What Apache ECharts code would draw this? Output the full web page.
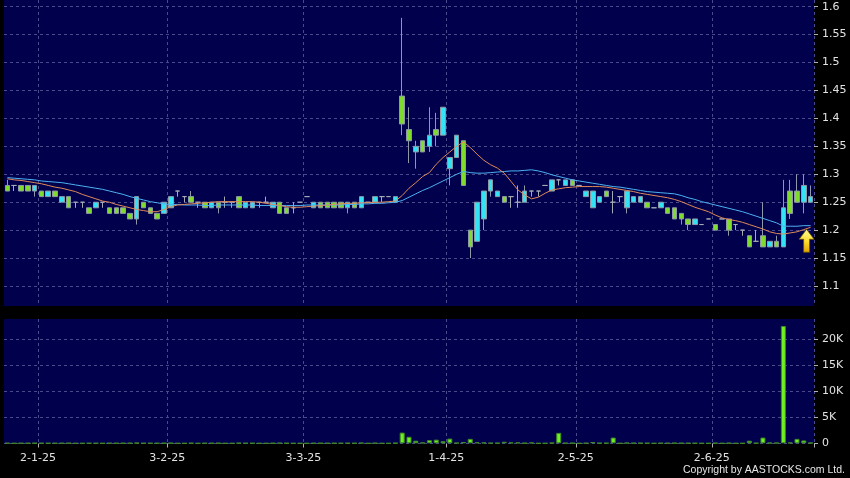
<!DOCTYPE html>
<html><head><meta charset="utf-8">
<script src="https://cdn.jsdelivr.net/npm/echarts@6/dist/echarts.min.js"></script>
<style>html,body{margin:0;padding:0;background:#000;}#c{width:850px;height:478px;}</style>
</head><body><div id="c"></div><script>
const dates = [
'23-12-24','24-12-24','27-12-24','30-12-24','31-12-24',
'2-1-25','3-1-25','6-1-25','7-1-25','8-1-25','9-1-25','10-1-25','13-1-25','14-1-25','15-1-25','16-1-25','17-1-25','20-1-25','21-1-25','22-1-25','23-1-25','24-1-25','27-1-25','28-1-25',
'3-2-25','4-2-25','5-2-25','6-2-25','7-2-25','10-2-25','11-2-25','12-2-25','13-2-25','14-2-25','17-2-25','18-2-25','19-2-25','20-2-25','21-2-25','24-2-25','25-2-25','26-2-25','27-2-25','28-2-25',
'3-3-25','4-3-25','5-3-25','6-3-25','7-3-25','10-3-25','11-3-25','12-3-25','13-3-25','14-3-25','17-3-25','18-3-25','19-3-25','20-3-25','21-3-25','24-3-25','25-3-25','26-3-25','27-3-25','28-3-25','31-3-25',
'1-4-25','2-4-25','3-4-25','7-4-25','8-4-25','9-4-25','10-4-25','11-4-25','14-4-25','15-4-25','16-4-25','17-4-25','22-4-25','23-4-25','24-4-25','25-4-25','28-4-25','29-4-25','30-4-25',
'2-5-25','6-5-25','7-5-25','8-5-25','9-5-25','12-5-25','13-5-25','14-5-25','15-5-25','16-5-25','19-5-25','20-5-25','21-5-25','22-5-25','23-5-25','26-5-25','27-5-25','28-5-25','29-5-25','30-5-25',
'2-6-25','3-6-25','4-6-25','5-6-25','6-6-25','9-6-25','10-6-25','11-6-25','12-6-25','13-6-25','16-6-25','17-6-25','18-6-25','19-6-25','20-6-25'
];
const labelDates = ['2-1-25','3-2-25','3-3-25','1-4-25','2-5-25','2-6-25'];

const opens = [
1.28,1.28,1.28,1.28,1.27,1.27,1.26,1.27,1.25,1.26,
1.25,1.25,1.24,1.24,1.25,1.24,1.24,1.24,1.23,1.22,
1.25,1.24,1.23,1.23,1.24,1.27,1.26,1.26,1.25,1.25,
1.24,1.25,1.25,1.25,1.26,1.24,1.24,1.25,1.25,1.24,
1.25,1.24,1.24,1.25,1.26,1.24,1.25,1.25,1.25,1.25,
1.24,1.25,1.24,1.25,1.25,1.26,1.26,1.25,1.44,1.38,
1.34,1.36,1.35,1.38,1.37,1.31,1.33,1.36,1.20,1.18,
1.22,1.27,1.26,1.26,1.26,1.25,1.25,1.27,1.27,1.28,
1.27,1.29,1.28,1.29,1.28,1.26,1.24,1.25,1.27,1.25,
1.26,1.24,1.25,1.25,1.25,1.24,1.24,1.24,1.24,1.23,
1.22,1.21,1.21,1.22,1.21,1.22,1.22,1.21,1.20,1.19,
1.18,1.19,1.17,1.18,1.17,1.27,1.27,1.25,1.25];
const closes = [
1.27,1.28,1.27,1.27,1.28,1.26,1.27,1.26,1.26,1.24,
1.25,1.25,1.23,1.25,1.25,1.23,1.23,1.23,1.22,1.26,
1.24,1.23,1.22,1.25,1.26,1.27,1.26,1.25,1.25,1.24,
1.25,1.24,1.25,1.25,1.24,1.25,1.25,1.25,1.25,1.25,
1.23,1.23,1.24,1.25,1.26,1.25,1.24,1.24,1.24,1.24,
1.25,1.24,1.26,1.25,1.26,1.26,1.26,1.26,1.39,1.36,
1.35,1.34,1.37,1.37,1.42,1.33,1.37,1.28,1.17,1.25,
1.27,1.29,1.27,1.25,1.26,1.25,1.27,1.27,1.27,1.28,
1.29,1.29,1.29,1.28,1.28,1.27,1.27,1.26,1.26,1.25,
1.26,1.27,1.26,1.26,1.24,1.24,1.25,1.23,1.22,1.22,
1.21,1.22,1.21,1.22,1.20,1.22,1.20,1.21,1.20,1.17,
1.18,1.17,1.18,1.17,1.24,1.23,1.25,1.28,1.26];
const lows = [
1.27,1.27,1.27,1.27,1.26,1.26,1.26,1.26,1.25,1.24,
1.24,1.24,1.23,1.24,1.24,1.23,1.23,1.23,1.22,1.21,
1.24,1.23,1.22,1.23,1.24,1.26,1.25,1.25,1.24,1.24,
1.24,1.23,1.24,1.24,1.24,1.24,1.24,1.24,1.25,1.24,
1.23,1.23,1.23,1.25,1.26,1.24,1.24,1.24,1.24,1.24,
1.23,1.24,1.24,1.25,1.25,1.25,1.26,1.25,1.37,1.32,
1.31,1.34,1.34,1.35,1.37,1.28,1.33,1.28,1.15,1.18,
1.20,1.26,1.26,1.25,1.24,1.24,1.25,1.26,1.26,1.28,
1.27,1.28,1.28,1.28,1.28,1.26,1.24,1.25,1.26,1.23,
1.25,1.23,1.25,1.25,1.24,1.24,1.24,1.23,1.22,1.21,
1.20,1.21,1.21,1.22,1.20,1.22,1.19,1.20,1.19,1.17,
1.18,1.17,1.17,1.17,1.17,1.22,1.25,1.23,1.25];
const highs = [
1.29,1.28,1.28,1.28,1.28,1.27,1.27,1.27,1.26,1.26,
1.25,1.25,1.24,1.25,1.25,1.24,1.24,1.24,1.23,1.26,
1.25,1.24,1.23,1.25,1.26,1.27,1.26,1.27,1.25,1.25,
1.25,1.25,1.26,1.25,1.26,1.25,1.25,1.25,1.26,1.25,
1.25,1.24,1.25,1.25,1.26,1.25,1.25,1.25,1.25,1.25,
1.25,1.25,1.26,1.25,1.26,1.26,1.26,1.26,1.58,1.42,
1.36,1.36,1.42,1.41,1.42,1.33,1.37,1.36,1.20,1.25,
1.27,1.29,1.27,1.26,1.26,1.28,1.28,1.27,1.27,1.28,
1.29,1.29,1.29,1.29,1.28,1.27,1.27,1.26,1.27,1.27,
1.26,1.27,1.26,1.26,1.25,1.24,1.25,1.24,1.24,1.23,
1.22,1.22,1.21,1.22,1.21,1.22,1.22,1.21,1.20,1.19,
1.20,1.25,1.18,1.19,1.29,1.29,1.30,1.30,1.28];
const maShort = [
1.292,1.290,1.289,1.287,1.285,1.283,1.280,1.277,1.275,1.272,
1.269,1.264,1.260,1.256,1.252,1.250,1.246,1.243,1.240,1.237,
1.235,1.233,1.233,1.237,1.242,1.245,1.246,1.247,1.248,1.249,
1.250,1.251,1.251,1.251,1.251,1.251,1.251,1.250,1.248,1.246,
1.244,1.242,1.241,1.241,1.242,1.243,1.244,1.245,1.246,1.247,
1.248,1.248,1.249,1.249,1.250,1.250,1.251,1.252,1.262,1.275,
1.285,1.296,1.303,1.318,1.330,1.340,1.350,1.358,1.348,1.336,
1.325,1.317,1.311,1.302,1.287,1.272,1.263,1.256,1.259,1.266,
1.272,1.274,1.276,1.277,1.278,1.278,1.278,1.278,1.277,1.275,
1.273,1.271,1.269,1.266,1.264,1.262,1.260,1.258,1.255,1.251,
1.246,1.241,1.237,1.233,1.227,1.222,1.219,1.217,1.214,1.210,
1.206,1.202,1.197,1.194,1.193,1.195,1.197,1.201,1.205];
const maLong = [
1.294,1.293,1.292,1.291,1.290,1.288,1.287,1.286,1.285,1.283,
1.281,1.279,1.277,1.275,1.273,1.270,1.267,1.264,1.260,1.257,
1.254,1.251,1.249,1.247,1.246,1.246,1.245,1.245,1.245,1.244,
1.244,1.245,1.245,1.245,1.245,1.245,1.245,1.244,1.244,1.244,
1.244,1.244,1.244,1.244,1.245,1.245,1.245,1.245,1.245,1.245,
1.246,1.246,1.247,1.247,1.248,1.248,1.249,1.250,1.253,1.259,
1.265,1.271,1.276,1.282,1.288,1.294,1.300,1.305,1.303,1.302,
1.302,1.303,1.304,1.305,1.306,1.306,1.307,1.308,1.306,1.303,
1.299,1.296,1.293,1.290,1.288,1.286,1.284,1.282,1.280,1.278,
1.277,1.275,1.273,1.271,1.269,1.268,1.267,1.266,1.265,1.262,
1.258,1.255,1.251,1.248,1.245,1.242,1.239,1.236,1.233,1.229,
1.225,1.221,1.217,1.213,1.207,1.207,1.207,1.208,1.208];
const volumes = [
40,0,30,30,40,30,20,30,30,60,
0,0,30,20,0,40,30,30,40,80,
30,30,30,40,60,0,0,40,0,30,
30,40,0,0,60,30,30,0,0,30,
60,30,0,0,0,30,30,30,30,30,
40,30,80,0,60,0,0,60,2050,1250,
500,150,600,700,400,900,80,250,850,200,
150,60,60,300,150,150,50,150,0,0,
100,2000,50,50,0,40,250,50,50,1100,
0,100,50,50,40,0,40,40,60,40,
40,30,0,0,50,0,60,0,0,500,
50,1100,100,100,22500,150,850,550,100];
const arrowAt = {date: '20-6-25', value: 1.181};
const priceTicks = {min: 1.1, max: 1.6, step: 0.05};
const volTicks = {min: 0, max: 20000, step: 5000};

const candleData = dates.map((d, i) => [opens[i], closes[i], lows[i], highs[i]]);
const isLabel = (idx, val) => labelDates.indexOf(val) >= 0;
const L = 4, R = 36;
const gridLine = {show: true, lineStyle: {color: '#4a4a8a', type: [3, 3], width: 1}};
const axisText = {color: '#e2e2e2', fontSize: 11, fontFamily: 'DejaVu Sans'};
const panelBg = '#00004c';

const chart = echarts.init(document.getElementById('c'), null, {renderer: 'canvas'});
chart.setOption({
  backgroundColor: '#000',
  animation: false,
  title: {text: 'Copyright by AASTOCKS.com Ltd.', right: 5, top: 465, padding: 0,
    textStyle: {color: '#e6e6e6', fontSize: 10.5, fontWeight: 'normal', fontFamily: 'Liberation Sans'}},
  grid: [
    {left: L, right: R, top: 0, height: 306, show: true, backgroundColor: panelBg, borderWidth: 0},
    {left: L, right: R, top: 6.7, height: 279.3},
    {left: L, right: R, top: 319, height: 124.5, show: true, backgroundColor: panelBg, borderWidth: 0},
    {left: L, right: R, top: 339, height: 104.3}
  ],
  xAxis: [
    {gridIndex: 0, type: 'category', data: dates, boundaryGap: true,
      axisLine: {show: false}, axisTick: {show: false}, axisLabel: {show: false},
      splitLine: Object.assign({interval: isLabel}, gridLine)},
    {gridIndex: 1, type: 'category', data: dates, boundaryGap: true, show: false},
    {gridIndex: 2, type: 'category', data: dates, boundaryGap: true,
      axisLine: {show: false},
      axisTick: {show: true, interval: isLabel, length: 4, lineStyle: {color: '#b0b0b0'}},
      axisLabel: Object.assign({show: true, interval: isLabel, margin: 9, padding: [0, 7, 0, 0]}, axisText),
      splitLine: Object.assign({interval: isLabel}, gridLine)},
    {gridIndex: 3, type: 'category', data: dates, boundaryGap: true, show: false}
  ],
  yAxis: [
    {gridIndex: 0, type: 'value', min: 0, max: 1, show: false},
    {gridIndex: 1, type: 'value', position: 'right', min: priceTicks.min, max: priceTicks.max, interval: priceTicks.step,
      axisLine: {show: false}, axisTick: {show: true, length: 4, lineStyle: {color: '#b0b0b0'}},
      axisLabel: Object.assign({margin: 8, formatter: v => String(+v.toFixed(2))}, axisText),
      splitLine: gridLine},
    {gridIndex: 2, type: 'value', min: 0, max: 1, show: false},
    {gridIndex: 3, type: 'value', position: 'right', min: volTicks.min, max: volTicks.max, interval: volTicks.step,
      axisLine: {show: false}, axisTick: {show: true, length: 4, lineStyle: {color: '#b0b0b0'}},
      axisLabel: Object.assign({margin: 8, formatter: v => v === 0 ? '0' : (v / 1000) + 'K'}, axisText),
      splitLine: gridLine}
  ],
  series: [
    {type: 'candlestick', xAxisIndex: 1, yAxisIndex: 1, data: candleData, barWidth: 5, z: 2,
      itemStyle: {color: '#34e3f3', color0: '#80dc2c', borderColor: '#8d99a6', borderColor0: '#8d99a6',
        borderColorDoji: '#a4abb3', borderWidth: 1},
      markPoint: {
        symbol: 'path://M7.5,0 L15,10 L10.5,10 L10.5,23 L4.5,23 L4.5,10 L0,10 Z',
        symbolSize: [15, 23], symbolOffset: [-4, 0], label: {show: false},
        itemStyle: {color: new echarts.graphic.LinearGradient(0, 0, 0, 1, [
          {offset: 0, color: '#ffff9e'}, {offset: 0.5, color: '#ffe030'}, {offset: 1, color: '#e0a000'}]),
          borderColor: '#6a5000', borderWidth: 0.8},
        data: [{coord: [arrowAt.date, arrowAt.value]}]
      }},
    {type: 'line', xAxisIndex: 1, yAxisIndex: 1, data: maLong, symbol: 'none', z: 3,
      lineStyle: {color: '#4cb2f2', width: 1}},
    {type: 'line', xAxisIndex: 1, yAxisIndex: 1, data: maShort, symbol: 'none', z: 3,
      lineStyle: {color: '#e08a58', width: 1}},
    {type: 'bar', xAxisIndex: 3, yAxisIndex: 3, data: volumes, barWidth: 5, clip: false,
      itemStyle: {color: '#6ef022', borderColor: '#3f8a22', borderWidth: 1}}
  ]
});
</script></body></html>
